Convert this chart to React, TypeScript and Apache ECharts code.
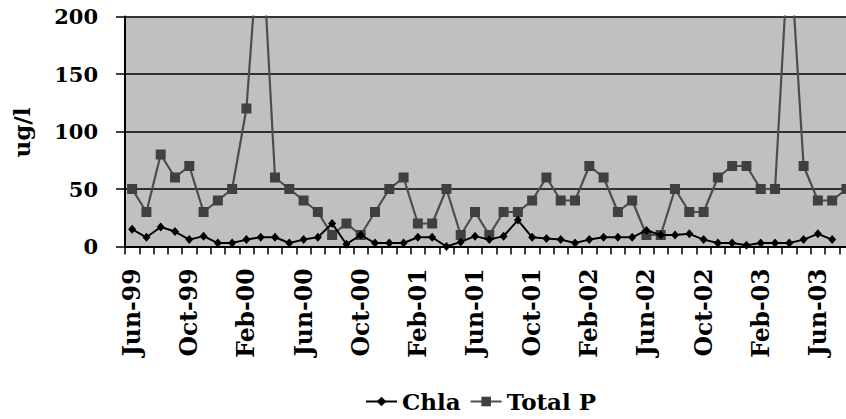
import React, { useEffect, useRef } from 'react';
import * as echarts from 'echarts';

const months = [
  'Jun-99', 'Jul-99', 'Aug-99', 'Sep-99', 'Oct-99', 'Nov-99', 'Dec-99', 'Jan-00', 'Feb-00', 'Mar-00',
  'Apr-00', 'May-00', 'Jun-00', 'Jul-00', 'Aug-00', 'Sep-00', 'Oct-00', 'Nov-00', 'Dec-00', 'Jan-01',
  'Feb-01', 'Mar-01', 'Apr-01', 'May-01', 'Jun-01', 'Jul-01', 'Aug-01', 'Sep-01', 'Oct-01', 'Nov-01',
  'Dec-01', 'Jan-02', 'Feb-02', 'Mar-02', 'Apr-02', 'May-02', 'Jun-02', 'Jul-02', 'Aug-02', 'Sep-02',
  'Oct-02', 'Nov-02', 'Dec-02', 'Jan-03', 'Feb-03', 'Mar-03', 'Apr-03', 'May-03', 'Jun-03', 'Jul-03',
  'Aug-03',
];

const chla: (number | null)[] = [
  15, 8, 17, 13, 6, 9, 3, 3, 6, 8,
  8, 3, 6, 8, 20, 2, 10, 3, 3, 3,
  8, 8, 0, 4, 9, 6, 9, 23, 8, 7,
  6, 3, 6, 8, 8, 8, 14, 10, 10, 11,
  6, 3, 3, 1, 3, 3, 3, 6, 11, 6,
  null,
];

const totalP = [
  50, 30, 80, 60, 70, 30, 40, 50, 120, 290,
  60, 50, 40, 30, 10, 20, 10, 30, 50, 60,
  20, 20, 50, 10, 30, 10, 30, 30, 40, 60,
  40, 40, 70, 60, 30, 40, 10, 10, 50, 30,
  30, 60, 70, 70, 50, 50, 270, 70, 40, 40,
  50,
];

const seriesNames = ['Chla', 'Total P'];
const yAxisTitle = 'ug/l';
const yMin = 0;
const yMax = 200;
const yStep = 50;

const FONT = 'DejaVu Serif';

export default function App() {
  const ref = useRef<HTMLDivElement>(null);
  useEffect(() => {
    const chart = echarts.init(ref.current!, null, { renderer: 'svg' });
    chart.setOption({
      animation: false,
      backgroundColor: '#ffffff',
      textStyle: { fontFamily: FONT },
      grid: {
        left: 125,
        top: 16.5,
        right: 6.4,
        bottom: 172.5,
        show: true,
        backgroundColor: '#c0c0c0',
        borderWidth: 0,
        containLabel: false,
      },
      legend: {
        data: seriesNames,
        left: 360,
        top: 385,
        itemWidth: 31,
        itemHeight: 12,
        itemGap: 9,
        textStyle: {
          fontFamily: FONT,
          fontSize: 23,
          fontWeight: 'bold',
          color: '#000',
        },
      },
      graphic: [
        {
          type: 'text',
          x: 21,
          y: 132.5,
          rotation: Math.PI / 2,
          style: {
            text: yAxisTitle,
            font: `bold 23px ${FONT}`,
            fill: '#000',
            align: 'center',
            verticalAlign: 'middle',
          },
        },
      ],
      xAxis: {
        type: 'category',
        data: months,
        boundaryGap: true,
        axisLine: { show: true, lineStyle: { color: '#000', width: 2 } },
        axisTick: { show: true, interval: 0, length: 8, lineStyle: { color: '#000', width: 1.5 } },
        axisLabel: {
          interval: 3,
          rotate: 90,
          margin: 22,
          fontFamily: FONT,
          fontSize: 23.5,
          fontWeight: 'bold',
          color: '#000',
        },
        splitLine: { show: false },
      },
      yAxis: {
        type: 'value',
        min: yMin,
        max: yMax,
        interval: yStep,
        axisLine: { show: true, lineStyle: { color: '#000', width: 2 } },
        axisTick: { show: true, length: 9, lineStyle: { color: '#000', width: 1.5 } },
        axisLabel: {
          margin: 27,
          fontFamily: FONT,
          fontSize: 21,
          fontWeight: 'bold',
          color: '#000',
        },
        splitLine: { show: true, lineStyle: { color: '#000', width: 1.5 } },
      },
      series: [
        {
          name: seriesNames[0],
          type: 'line',
          data: chla,
          symbol: 'diamond',
          symbolSize: [8, 9],
          showAllSymbol: true,
          itemStyle: { color: '#000' },
          lineStyle: { color: '#000', width: 2 },
          z: 3,
        },
        {
          name: seriesNames[1],
          type: 'line',
          data: totalP,
          symbol: 'rect',
          symbolSize: 10,
          showAllSymbol: true,
          itemStyle: { color: '#404040' },
          lineStyle: { color: '#4d4d4d', width: 2.2 },
          z: 2,
        },
      ],
    });
    return () => chart.dispose();
  }, []);
  return (
    <div
      ref={ref}
      style={{ position: 'fixed', left: 0, top: 0, width: 860, height: 419, background: '#fff' }}
    />
  );
}
